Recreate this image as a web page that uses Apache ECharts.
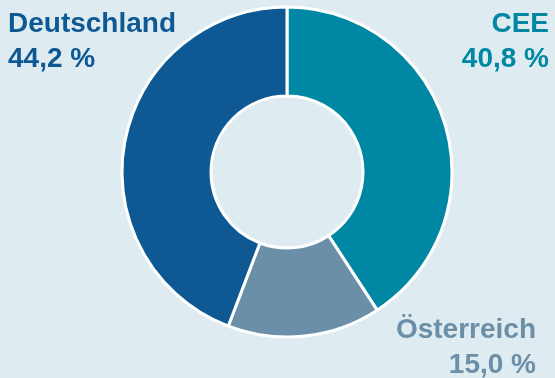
<!DOCTYPE html>
<html>
<head>
<meta charset="utf-8">
<script src="https://cdn.jsdelivr.net/npm/echarts@6/dist/echarts.min.js"></script>
<style>
  html, body { margin: 0; padding: 0; background: #deecf2; }
  #chart { width: 555px; height: 378px; }
</style>
</head>
<body>
<div id="chart"></div>
<script>
// Anteile nach Region
const regions = ['CEE', 'Österreich', 'Deutschland'];
const shares = [40.8, 15.0, 44.2];
const colors = ['#0087a3', '#6b8fa8', '#0e5993'];

const fmt = v => v.toFixed(1).replace('.', ',') + ' %';

// Label-Positionen (Ecke, obere Zeile)
const labelPos = [
    { right: 6, top: 10 },
    { right: 19, top: 316 },
    { left: 8, top: 10 }
];

const chart = echarts.init(document.getElementById('chart'));

const labels = [];
regions.forEach((name, i) => {
    [name, fmt(shares[i])].forEach((line, k) => {
        labels.push({
            type: 'text',
            right: labelPos[i].right,
            left: labelPos[i].left,
            top: labelPos[i].top + k * 35,
            style: {
                text: line,
                fill: colors[i],
                font: 'bold 28px "Liberation Sans", Arial, sans-serif'
            }
        });
    });
});

chart.setOption({
    backgroundColor: '#deecf2',
    animation: false,
    series: [{
        type: 'pie',
        center: [287, 172],
        radius: [76, 165],
        startAngle: 90,
        clockwise: true,
        label: { show: false },
        labelLine: { show: false },
        itemStyle: { borderColor: '#ffffff', borderWidth: 3 },
        data: regions.map((name, i) => ({
            name: name,
            value: shares[i],
            itemStyle: { color: colors[i] }
        }))
    }],
    graphic: labels
});
</script>
</body>
</html>
